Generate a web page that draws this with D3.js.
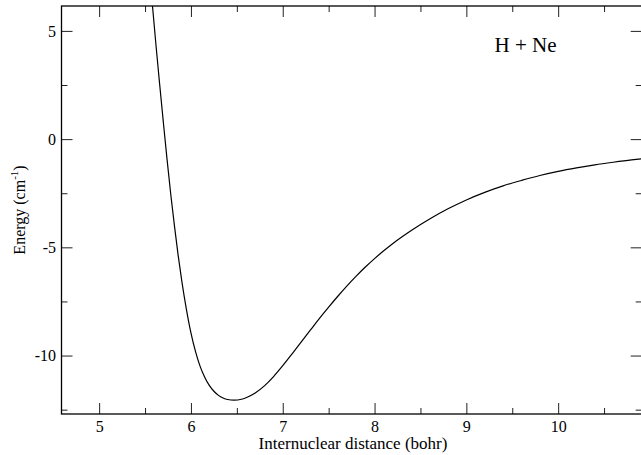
<!DOCTYPE html>
<html>
<head>
<meta charset="utf-8">
<script src="https://cdn.jsdelivr.net/npm/d3@7"></script>
<style>
  html, body { margin: 0; padding: 0; background: #fff; }
  svg { display: block; }
  text { font-family: "Liberation Serif", "DejaVu Serif", serif; fill: #000; }
</style>
</head>
<body>
<svg id="chart" width="641" height="455"></svg>
<script>
// Data (r in bohr, E in cm^-1)
const rValues = [5.58, 5.62, 5.66, 5.70, 5.74, 5.78, 5.82, 5.86, 5.90, 5.95, 6.00, 6.05, 6.10, 6.15, 6.20, 6.25, 6.30, 6.35, 6.40, 6.47,
  6.55, 6.60, 6.70, 6.80, 6.90, 7.00, 7.10, 7.20, 7.30, 7.40, 7.50, 7.60, 7.70, 7.80, 7.90, 8.00, 8.10, 8.20, 8.30, 8.40,
  8.60, 8.80, 9.00, 9.20, 9.40, 9.60, 9.80, 10.00, 10.20, 10.40, 10.60, 10.80, 10.95];
const energyValues = [6.2, 4.3, 2.5, 0.75, -0.95, -2.55, -4.0, -5.35, -6.55, -7.85, -8.95, -9.82, -10.5, -11.0, -11.38, -11.65, -11.84, -11.96, -12.03, -12.06,
  -12.02, -11.95, -11.73, -11.40, -10.97, -10.47, -9.93, -9.38, -8.83, -8.28, -7.76, -7.26, -6.78, -6.33, -5.91, -5.52, -5.16, -4.82, -4.51, -4.22,
  -3.69, -3.22, -2.81, -2.46, -2.16, -1.91, -1.68, -1.49, -1.33, -1.19, -1.07, -0.96, -0.89];
const xMajorTicks = [5, 6, 7, 8, 9, 10];
const xMinorTicks = [4.5, 5.5, 6.5, 7.5, 8.5, 9.5, 10.5];
const yMajorTicks = [-10, -5, 0, 5];
const yMinorTicks = [-12.5, -7.5, -2.5, 2.5];
const xTitle = "Internuclear distance (bohr)";
const yTitle = "Energy (cm";
const annotation = "H + Ne";

const svg = d3.select("#chart");
const pL = 61.5, pR = 641.7, pT = 6, pB = 414;
const x = d3.scaleLinear().domain([4.59, 10.91]).range([pL, pR]);
const y = d3.scaleLinear().domain([-12.7, 6.15]).range([pB, pT]);
const fmt = d => String(d);  // plain hyphen-minus like the reference

const data = rValues.map((r, i) => ({ r, e: energyValues[i] }));

svg.append("defs").append("clipPath").attr("id", "clip")
  .append("rect").attr("x", pL).attr("y", pT).attr("width", pR - pL).attr("height", pB - pT);

// curve
svg.append("path")
  .datum(data)
  .attr("clip-path", "url(#clip)")
  .attr("fill", "none")
  .attr("stroke", "#000")
  .attr("stroke-width", 1.2)
  .attr("d", d3.line().x(d => x(d.r)).y(d => y(d.e)).curve(d3.curveMonotoneX));

const majorLen = 11, minorLen = 6;
const tickColor = "#222";
const xInRange = v => x(v) >= pL - 0.1 && x(v) <= pR + 0.1;

function styleAxis(g) {
  g.select(".domain").remove();
  g.selectAll(".tick line").attr("stroke", tickColor).attr("stroke-width", 1);
  g.selectAll(".tick text").attr("font-size", 16).attr("font-family", "Liberation Serif");
}

// bottom axis (ticks inward)
svg.append("g").attr("transform", `translate(0,${pB})`)
  .call(d3.axisBottom(x).tickValues(xMajorTicks).tickSizeInner(-majorLen).tickSizeOuter(0).tickPadding(7).tickFormat(fmt))
  .call(styleAxis);
svg.append("g").attr("transform", `translate(0,${pB})`)
  .call(d3.axisBottom(x).tickValues(xMinorTicks.filter(xInRange)).tickSizeInner(-minorLen).tickSizeOuter(0).tickFormat(""))
  .call(styleAxis);

// top axis
svg.append("g").attr("transform", `translate(0,${pT})`)
  .call(d3.axisTop(x).tickValues(xMajorTicks).tickSizeInner(-majorLen).tickSizeOuter(0).tickFormat(""))
  .call(styleAxis);
svg.append("g").attr("transform", `translate(0,${pT})`)
  .call(d3.axisTop(x).tickValues(xMinorTicks.filter(xInRange)).tickSizeInner(-minorLen).tickSizeOuter(0).tickFormat(""))
  .call(styleAxis);

// left axis
svg.append("g").attr("transform", `translate(${pL},0)`)
  .call(d3.axisLeft(y).tickValues(yMajorTicks).tickSizeInner(-majorLen).tickSizeOuter(0).tickPadding(5.5).tickFormat(fmt))
  .call(styleAxis);
svg.append("g").attr("transform", `translate(${pL},0)`)
  .call(d3.axisLeft(y).tickValues(yMinorTicks).tickSizeInner(-minorLen).tickSizeOuter(0).tickFormat(""))
  .call(styleAxis);

// right axis
svg.append("g").attr("transform", `translate(${pR},0)`)
  .call(d3.axisRight(y).tickValues(yMajorTicks).tickSizeInner(-majorLen).tickSizeOuter(0).tickFormat(""))
  .call(styleAxis);
svg.append("g").attr("transform", `translate(${pR},0)`)
  .call(d3.axisRight(y).tickValues(yMinorTicks).tickSizeInner(-minorLen).tickSizeOuter(0).tickFormat(""))
  .call(styleAxis);

// frame
svg.append("rect")
  .attr("x", pL).attr("y", pT).attr("width", pR - pL).attr("height", pB - pT)
  .attr("fill", "none").attr("stroke", "#000").attr("stroke-width", 1.3);

// axis titles
svg.append("text")
  .attr("x", 353).attr("y", 449)
  .attr("text-anchor", "middle").attr("font-size", 17)
  .text(xTitle);

const yt = svg.append("text")
  .attr("transform", `translate(25,${(pT + pB) / 2}) rotate(-90)`)
  .attr("text-anchor", "middle").attr("font-size", 16);
yt.append("tspan").text(yTitle);
yt.append("tspan").attr("font-size", 11).attr("dy", -7).text("-1");
yt.append("tspan").attr("dy", 7).text(")");

// annotation
svg.append("text")
  .attr("x", 525.5).attr("y", 52.3)
  .attr("text-anchor", "middle").attr("font-size", 21)
  .text(annotation);
</script>
</body>
</html>
